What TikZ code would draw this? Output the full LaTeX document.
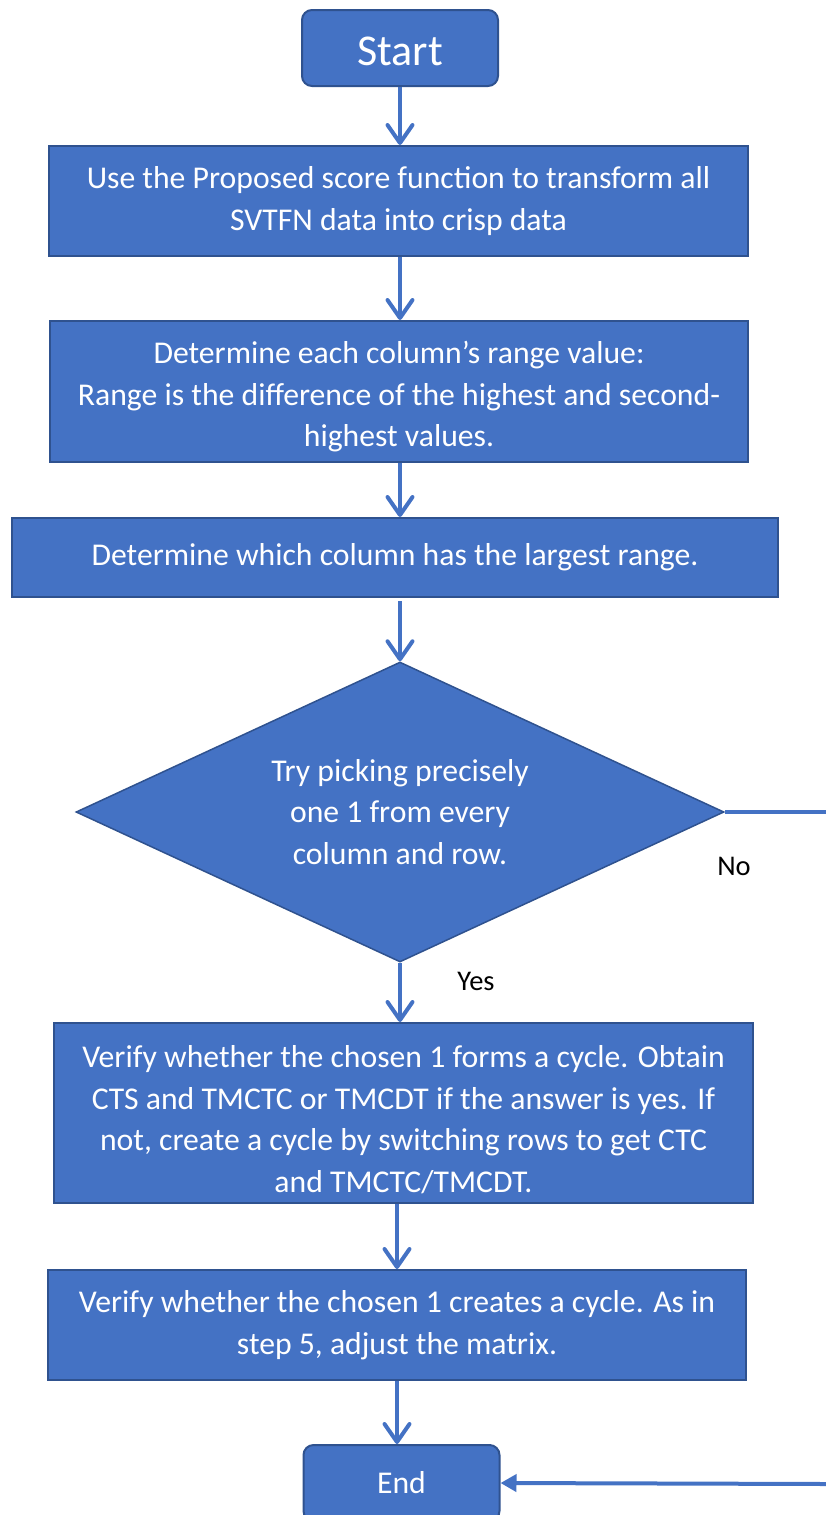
\documentclass[tikz,border=0pt]{standalone}
\usepackage{fontspec}
\setmainfont{Carlito}
\usetikzlibrary{positioning,shapes.geometric,arrows.meta}
\definecolor{flowblue}{HTML}{4472C4}
\definecolor{flowedge}{HTML}{2F528F}
\newcommand{\flowarrowstyle}{-{Straight Barb[length=18pt,width=25pt,line cap=round,line join=round]}}
\newcommand{\toppad}[1]{\rule{0pt}{#1}}

\begin{document}
\begin{tikzpicture}[
    x=1pt, y=-1pt,
    font=\fontsize{31.7}{41.5}\selectfont,
    flow/.style={\flowarrowstyle, draw=flowblue, line width=4pt},
    flowline/.style={draw=flowblue, line width=4.5pt},
    backflow/.style={-{Triangle[length=16pt,width=17pt]}, draw=flowblue, line width=4pt},
    stepbox/.style={draw=flowedge, fill=flowblue, line width=2pt, text=white, align=center, inner sep=0pt},
    termbox/.style={stepbox, rounded corners=10pt, minimum width=196pt, minimum height=76pt},
    decbox/.style={diamond, draw=flowedge, fill=flowblue, line width=1.5pt, text=white, align=center, aspect=2.16, minimum width=648pt, minimum height=300pt, inner sep=0pt},
    lbl/.style={font=\fontsize{28.5}{34}\selectfont, text=black, inner sep=0pt}
]
  \useasboundingbox (0,0) rectangle (826,1515);

  \node[termbox, font=\fontsize{44}{50}\selectfont, text height=35pt, text depth=0pt] (start) at (400,48) {Start};
  \node[stepbox, minimum width=699pt, minimum height=110pt] (step-1) at (398.5,201)
    {Use the Proposed score function to transform all\\SVTFN data into crisp data};
  \node[stepbox, minimum width=698pt, minimum height=141pt] (step-2) at (399,391.5)
    {\toppad{33pt}Determine each column's range value:\\Range is the difference of the highest and second-\\highest values.};
  \node[stepbox, minimum width=766pt, minimum height=79pt] (step-3) at (395,557.5)
    {Determine which column has the largest range.};
  \node[decbox] (decide) at (400,812)
    {Try picking precisely\\one 1 from every\\column and row.};
  \node[stepbox, minimum width=699pt, minimum height=180pt] (step-5) at (403.5,1113)
    {\toppad{35pt}Verify whether the chosen 1 forms a cycle. Obtain\\CTS and TMCTC or TMCDT if the answer is yes. If\\not, create a cycle by switching rows to get CTC\\and TMCTC/TMCDT.};
  \node[stepbox, minimum width=698pt, minimum height=110pt] (step-6) at (397,1325)
    {Verify whether the chosen 1 creates a cycle. As in\\step 5, adjust the matrix.};
  \node[termbox] (end) at (401.5,1483) {End};

  \draw[flow] (start.south) -- (start.south |- step-1.north);
  \draw[flow] (start.south |- step-1.south) -- (start.south |- step-2.north);
  \draw[flow] (start.south |- step-2.south) -- (start.south |- step-3.north);
  \draw[flow, shorten <=3pt] (decide.north |- step-3.south) -- (decide.north);
  \draw[flow] (decide.south) -- (decide.south |- step-5.north);
  \draw[flow] (step-6.north |- step-5.south) -- (step-6.north);
  \draw[flow] (step-6.south) -- (step-6.south |- end.north);

  % No branch runs off the right edge and comes back into End
  \coordinate (no-exit) at (826,810);
  \coordinate (no-return) at (826,1484);
  \draw[flowline] (decide.east) -- (decide.east -| no-exit);
  \draw[backflow] (no-return) -- (end.east);

  \node[lbl] (no-label) at (734,866) {No};
  \node[lbl] (yes-label) at (476,981) {Yes};
\end{tikzpicture}
\end{document}
